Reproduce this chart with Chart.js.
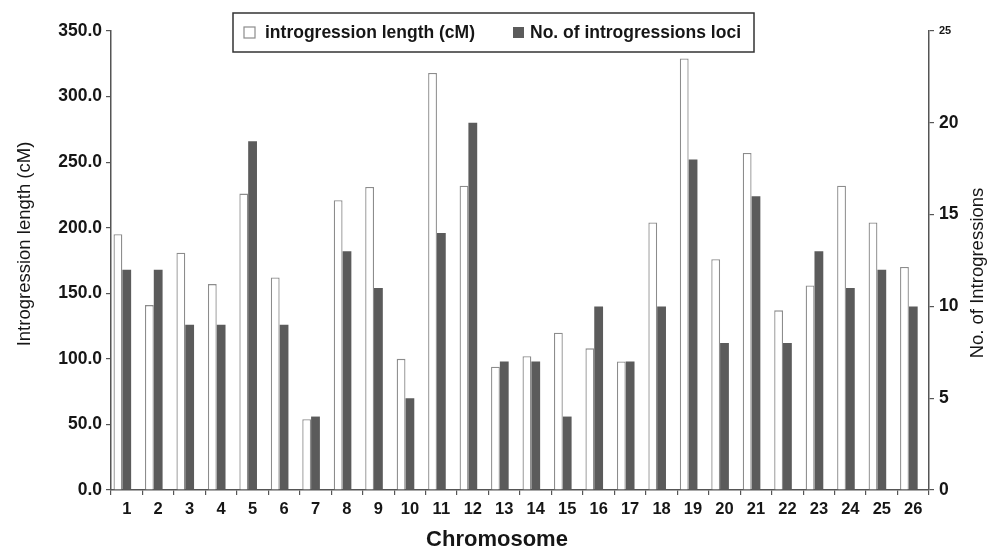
<!DOCTYPE html>
<html>
<head>
<meta charset="utf-8">
<script src="https://cdn.jsdelivr.net/npm/chart.js@4.4.1/dist/chart.umd.min.js"></script>
<style>
  html, body { margin: 0; padding: 0; background: #fff; }
  #wrap { width: 1000px; height: 552px; }
</style>
</head>
<body>
<div id="wrap"><canvas id="grafico" width="1000" height="552"></canvas></div>
<script>
// dados
const cromossomos = ['1','2','3','4','5','6','7','8','9','10','11','12','13','14','15','16','17','18','19','20','21','22','23','24','25','26'];
const comprimento = [195, 141, 181, 157, 226, 162, 54, 221, 231, 100, 318, 232, 94, 102, 120, 108, 98, 204, 329, 176, 257, 137, 156, 232, 204, 170];
const loci = [12, 12, 9, 9, 19, 9, 4, 13, 11, 5, 14, 20, 7, 7, 4, 10, 7, 10, 18, 8, 16, 8, 13, 11, 12, 10];
const ticksEsq = [0, 50, 100, 150, 200, 250, 300, 350];
const ticksDir = [0, 5, 10, 15, 20, 25];

const tituloEsq = 'Introgression length (cM)';
const tituloDir = 'No. of Introgressions';
const tituloX = 'Chromosome';

const corEscura = '#5b5b5b';
const corBorda = '#8c8c8c';
const corTexto = '#161616';
const corEixo = '#555';

// legenda e titulos desenhados a mao (a legenda fica dentro da area do grafico)
const legendaETitulos = {
    id: 'legendaETitulos',
    afterDraw(chart) {
        const ctx = chart.ctx;
        const ds = chart.data.datasets;
        ctx.save();
        ctx.strokeStyle = '#333';
        ctx.lineWidth = 1.5;
        ctx.fillStyle = '#fff';
        ctx.fillRect(233, 13, 521, 39);
        ctx.strokeRect(233, 13, 521, 39);

        // item 1
        ctx.fillStyle = '#fff';
        ctx.strokeStyle = corBorda;
        ctx.lineWidth = 1.2;
        ctx.fillRect(244, 27, 11, 11);
        ctx.strokeRect(244, 27, 11, 11);
        // item 2
        ctx.fillStyle = corEscura;
        ctx.fillRect(513, 27, 11, 11);

        ctx.fillStyle = corTexto;
        ctx.font = 'bold 17.5px "Liberation Sans", Arial, sans-serif';
        ctx.textBaseline = 'middle';
        ctx.textAlign = 'left';
        ctx.fillText(ds[0].label, 265, 33);
        ctx.fillText(ds[1].label, 530, 33);

        // titulos dos eixos
        ctx.font = '18.5px "Liberation Sans", Arial, sans-serif';
        ctx.textAlign = 'center';
        ctx.save();
        ctx.translate(25, 244);
        ctx.rotate(-Math.PI / 2);
        ctx.fillText(tituloEsq, 0, 0);
        ctx.restore();

        ctx.save();
        ctx.translate(978, 273);
        ctx.rotate(-Math.PI / 2);
        ctx.fillText(tituloDir, 0, 0);
        ctx.restore();

        ctx.font = 'bold 22px "Liberation Sans", Arial, sans-serif';
        ctx.fillText(tituloX, 497, 540);
        ctx.restore();
    }
};

const ctx = document.getElementById('grafico').getContext('2d');
const grafico = new Chart(ctx, {
    type: 'bar',
    data: {
        labels: cromossomos,
        datasets: [
            {
                label: 'introgression length (cM)',
                data: comprimento,
                backgroundColor: '#fff',
                borderColor: corBorda,
                borderWidth: 1.3,
                yAxisID: 'y'
            },
            {
                label: 'No. of introgressions loci',
                data: loci,
                backgroundColor: corEscura,
                borderWidth: 0,
                yAxisID: 'y1'
            },
            {
                // espaco vazio a direita: no original o par de barras fica deslocado para a esquerda
                label: '',
                data: [],
                yAxisID: 'y1'
            }
        ]
    },
    options: {
        responsive: false,
        animation: false,
        devicePixelRatio: 1,
        layout: { padding: { top: 31, left: 0, right: 0, bottom: 0 } },
        datasets: {
            bar: { categoryPercentage: 0.84, barPercentage: 1 }
        },
        plugins: {
            legend: { display: false },
            tooltip: { enabled: false }
        },
        scales: {
            x: {
                afterFit: s => { s.height = 62; },
                grid: { display: true, drawOnChartArea: false, drawTicks: true, tickLength: 5, color: corEixo, lineWidth: 1.2 },
                border: { display: true, color: corEixo, width: 1.5 },
                ticks: {
                    color: corTexto,
                    padding: 5,
                    maxRotation: 0,
                    autoSkip: false,
                    font: { family: '"Liberation Sans", Arial, sans-serif', size: 16.5, weight: 'bold' }
                }
            },
            y: {
                position: 'left',
                min: 0,
                max: 350,
                afterFit: s => { s.width = 111; },
                afterBuildTicks: s => { s.ticks = ticksEsq.map(v => ({ value: v })); },
                grid: { display: true, drawOnChartArea: false, drawTicks: true, tickLength: 5, color: corEixo, lineWidth: 1.2 },
                border: { display: true, color: corEixo, width: 1.5 },
                ticks: {
                    color: corTexto,
                    padding: 4,
                    callback: v => v.toFixed(1),
                    font: { family: '"Liberation Sans", Arial, sans-serif', size: 17.5, weight: 'bold' }
                }
            },
            y1: {
                position: 'right',
                min: 0,
                max: 25,
                afterFit: s => { s.width = 71; },
                afterBuildTicks: s => { s.ticks = ticksDir.map(v => ({ value: v })); },
                grid: { display: true, drawOnChartArea: false, drawTicks: true, tickLength: 5, color: corEixo, lineWidth: 1.2 },
                border: { display: true, color: corEixo, width: 1.5 },
                ticks: {
                    color: corTexto,
                    padding: 5,
                    font: c => ({
                        family: '"Liberation Sans", Arial, sans-serif',
                        size: c.tick && c.tick.value === 25 ? 11 : 17.5,
                        weight: 'bold'
                    })
                }
            }
        }
    },
    plugins: [legendaETitulos]
});
</script>
</body>
</html>
